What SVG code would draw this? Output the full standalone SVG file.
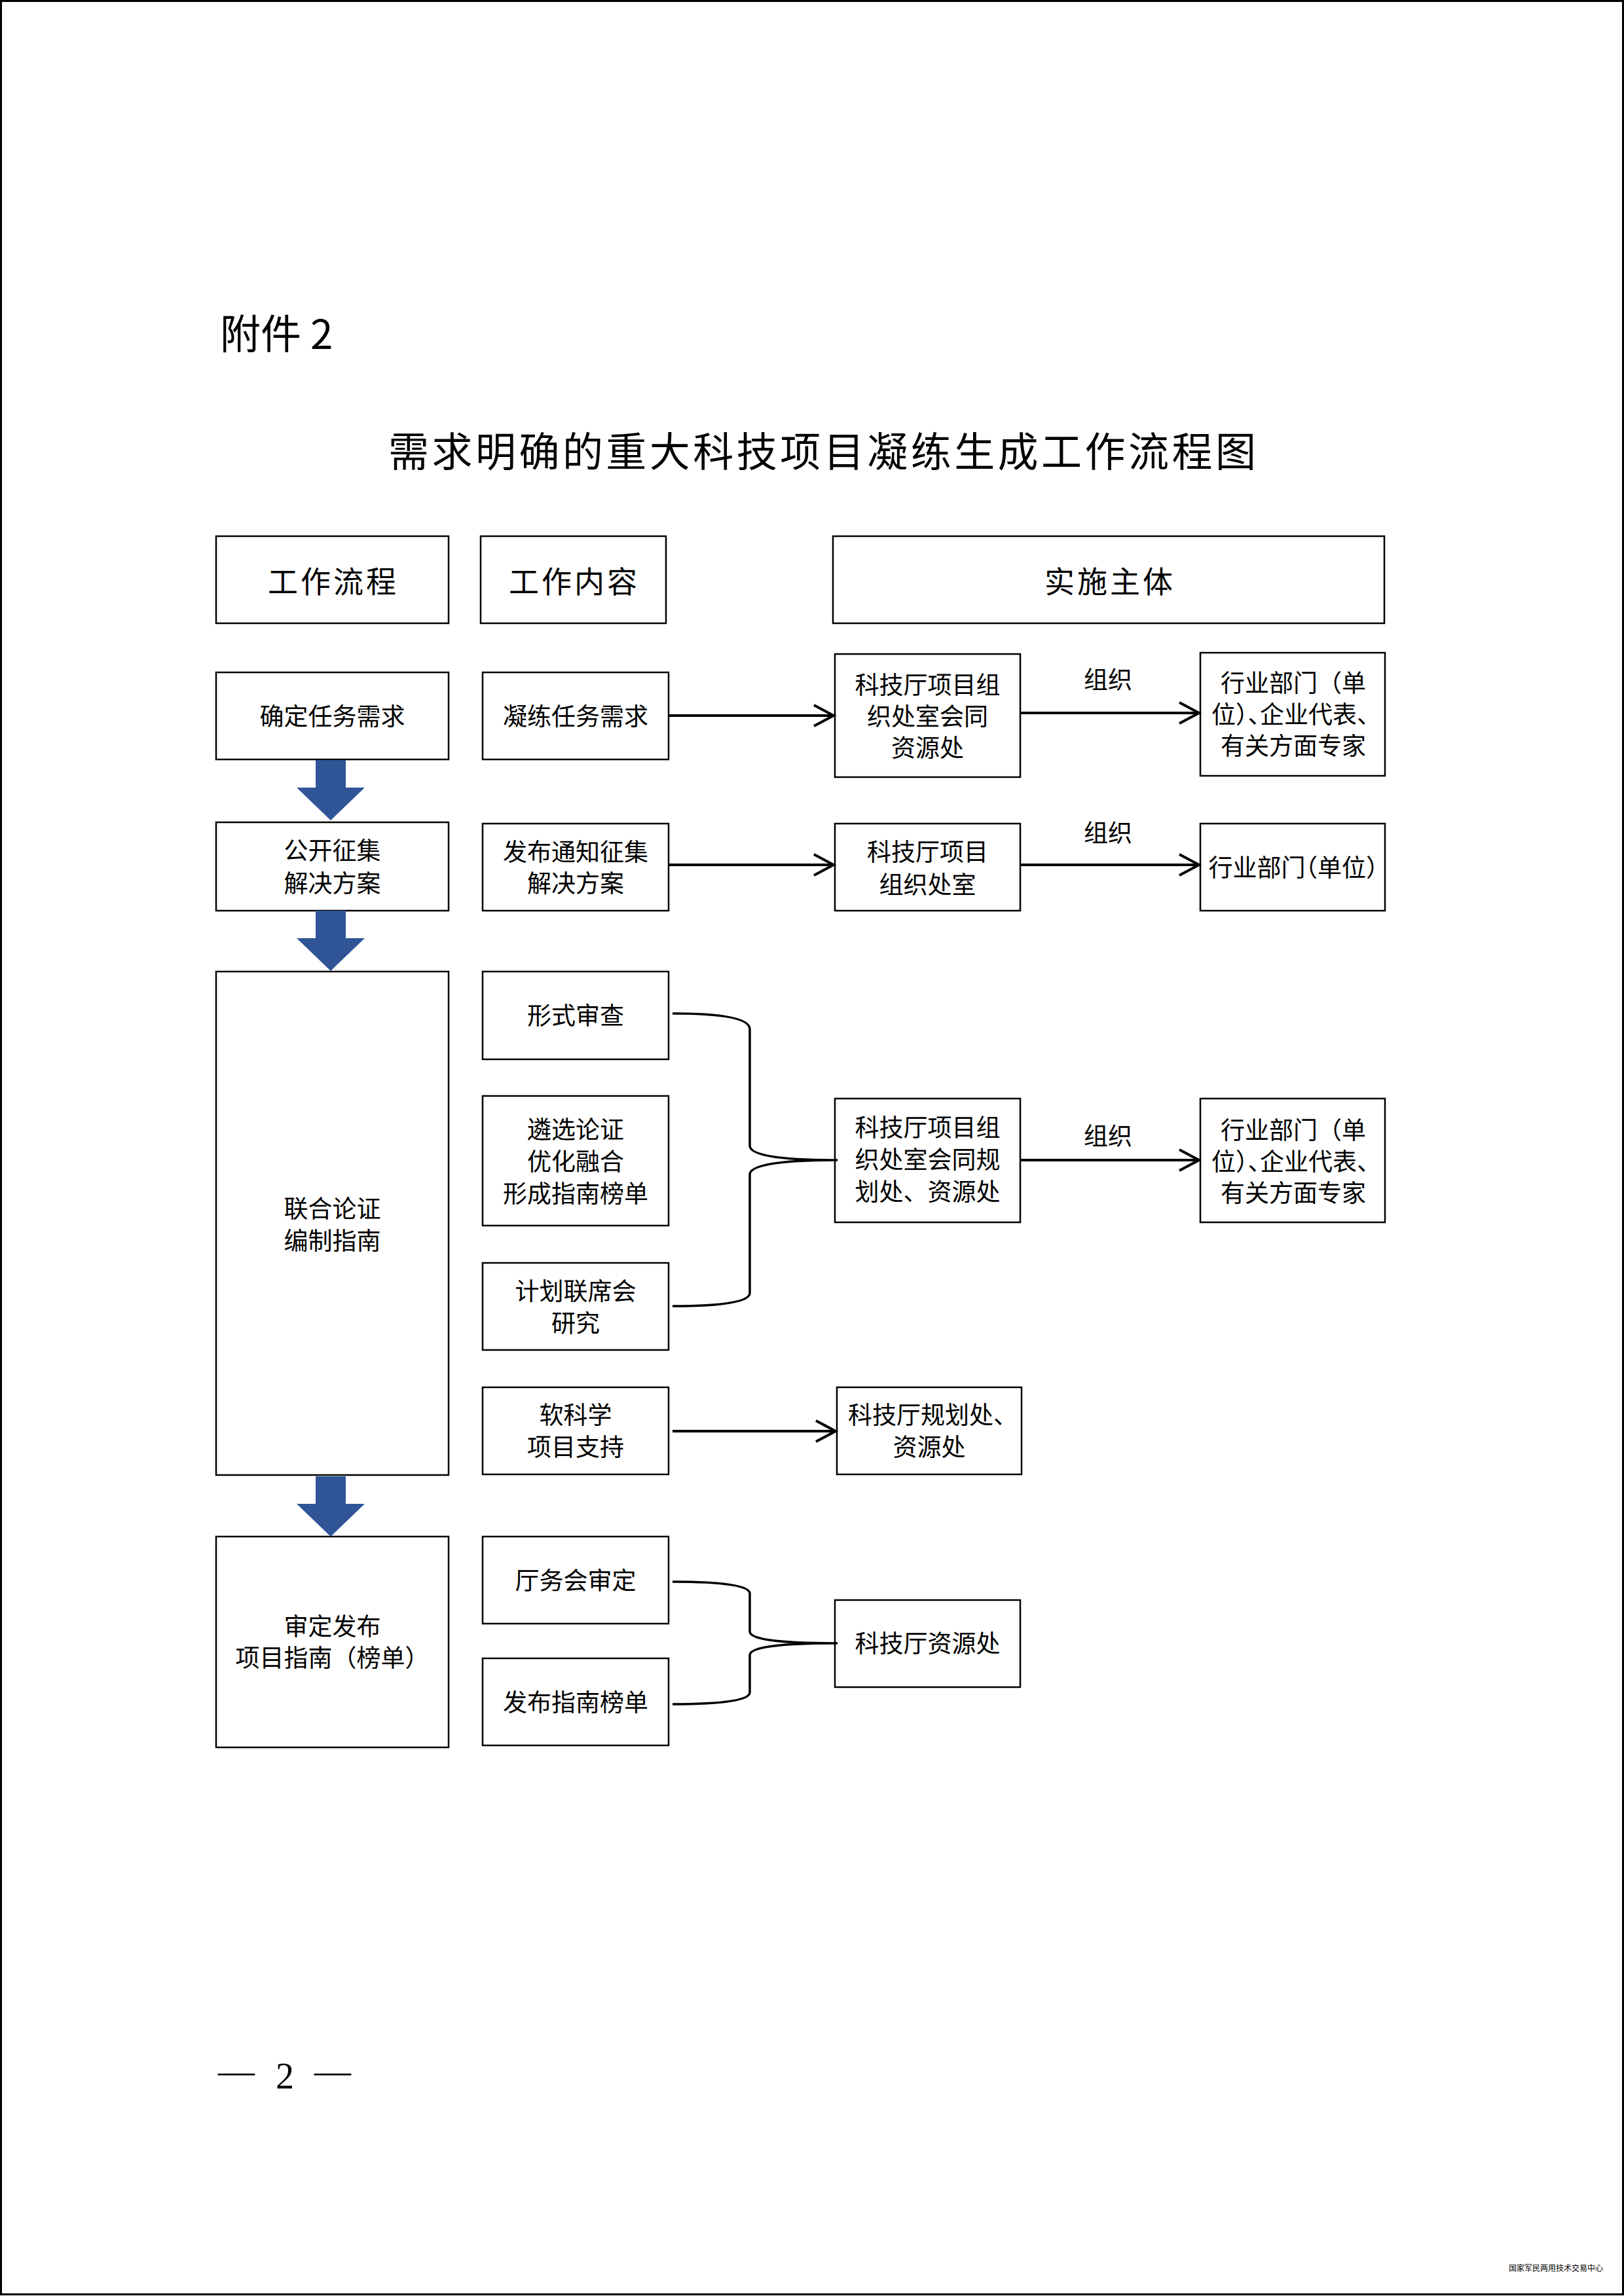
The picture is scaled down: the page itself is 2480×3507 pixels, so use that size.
<svg xmlns="http://www.w3.org/2000/svg" width="2480" height="3507" viewBox="0 0 2480 3507">
<style>
.box{fill:#fff;stroke:#000;stroke-width:2.5}
.t{font-family:"Noto Sans CJK SC","Noto Sans CJK JP",sans-serif;font-size:37px;text-anchor:middle;fill:#000}
.s{text-anchor:start}
.hw{font-feature-settings:"halt" 1}
.h{font-size:46px;letter-spacing:4px}
.conn{fill:none;stroke:#000;stroke-width:4}
.brace{fill:none;stroke:#000;stroke-width:3.5}
.blue{fill:#2F5597}
</style>
<defs>
<marker id="ah" markerUnits="userSpaceOnUse" markerWidth="44" markerHeight="44" viewBox="-36 -22 44 44" refX="0" refY="0" orient="auto">
<path d="M-30,-16 L0,0 L-30,16" fill="none" stroke="#000" stroke-width="4"/>
</marker>
</defs>
<rect x="0" y="0" width="2480" height="3507" fill="#fff"/>
<rect x="1.5" y="1.5" width="2477" height="3503" fill="none" stroke="#000" stroke-width="3"/>

<text x="336" y="533" style="font-family:'Noto Sans CJK SC',sans-serif;font-size:62px">附件 2</text>
<text x="593" y="713" textLength="1325" lengthAdjust="spacing" style="font-family:'Noto Sans CJK SC',sans-serif;font-size:62px">需求明确的重大科技项目凝练生成工作流程图</text>

<g id="hdr-flow"><rect class="box" x="330" y="819" width="355" height="133"/><text class="t h" x="509" y="905">工作流程</text></g>
<g id="hdr-content"><rect class="box" x="734" y="819" width="283" height="133"/><text class="t h" x="877" y="905">工作内容</text></g>
<g id="hdr-subject"><rect class="box" x="1272" y="819" width="842" height="133"/><text class="t h" x="1695" y="905">实施主体</text></g>

<g id="n-flow1"><rect class="box" x="330" y="1027" width="355" height="133"/><text class="t" x="507.5" y="1108">确定任务需求</text></g>
<g id="n-c1"><rect class="box" x="737" y="1027" width="284" height="133"/><text class="t" x="879" y="1108">凝练任务需求</text></g>
<g id="n-s1"><rect class="box" x="1275" y="999" width="283" height="188"/>
<text class="t" x="1416.5" y="1060">科技厅项目组</text><text class="t" x="1416.5" y="1108">织处室会同</text><text class="t" x="1416.5" y="1156">资源处</text></g>
<g id="n-o1"><rect class="box" x="1833" y="997" width="282" height="188"/>
<text class="t" x="1975" y="1057">行业部门（单</text>
<text class="t s hw" x="1850" y="1105">位）、企业代表、</text>
<text class="t" x="1975" y="1153">有关方面专家</text></g>

<g id="n-flow2"><rect class="box" x="330" y="1256" width="355" height="135"/><text class="t" x="507.5" y="1313">公开征集</text><text class="t" x="507.5" y="1363">解决方案</text></g>
<g id="n-c2"><rect class="box" x="737" y="1258" width="284" height="133"/><text class="t" x="879" y="1315">发布通知征集</text><text class="t" x="879" y="1363">解决方案</text></g>
<g id="n-s2"><rect class="box" x="1275" y="1258" width="283" height="133"/><text class="t" x="1416.5" y="1315">科技厅项目</text><text class="t" x="1416.5" y="1365">组织处室</text></g>
<g id="n-o2"><rect class="box" x="1833" y="1258" width="282" height="133"/>
<text class="t hw" x="1975" y="1339">行业部门（单位）</text></g>

<g id="n-flow3"><rect class="box" x="330" y="1484" width="355" height="769"/><text class="t" x="507.5" y="1860">联合论证</text><text class="t" x="507.5" y="1909">编制指南</text></g>
<g id="n-c3a"><rect class="box" x="737" y="1484" width="284" height="134"/><text class="t" x="879" y="1565">形式审查</text></g>
<g id="n-c3b"><rect class="box" x="737" y="1674" width="284" height="198"/><text class="t" x="879" y="1739">遴选论证</text><text class="t" x="879" y="1788">优化融合</text><text class="t" x="879" y="1837">形成指南榜单</text></g>
<g id="n-c3c"><rect class="box" x="737" y="1929" width="284" height="133"/><text class="t" x="879" y="1986">计划联席会</text><text class="t" x="879" y="2035">研究</text></g>
<g id="n-s3"><rect class="box" x="1275" y="1678" width="283" height="189"/>
<text class="t" x="1416.5" y="1736">科技厅项目组</text><text class="t" x="1416.5" y="1785">织处室会同规</text><text class="t" x="1416.5" y="1834">划处、资源处</text></g>
<g id="n-o3"><rect class="box" x="1833" y="1678" width="282" height="189"/>
<text class="t" x="1975" y="1740">行业部门（单</text>
<text class="t s hw" x="1850" y="1788">位）、企业代表、</text>
<text class="t" x="1975" y="1836">有关方面专家</text></g>

<g id="n-c4"><rect class="box" x="737" y="2119" width="284" height="133"/><text class="t" x="879" y="2175">软科学</text><text class="t" x="879" y="2224">项目支持</text></g>
<g id="n-s4"><rect class="box" x="1278" y="2119" width="282" height="133"/><text class="t s" x="1295" y="2175">科技厅规划处、</text><text class="t" x="1419" y="2224">资源处</text></g>

<g id="n-flow5"><rect class="box" x="330" y="2347" width="355" height="322"/><text class="t" x="507.5" y="2498">审定发布</text><text class="t" x="507.5" y="2546">项目指南（榜单）</text></g>
<g id="n-c5a"><rect class="box" x="737" y="2347" width="284" height="133"/><text class="t" x="879" y="2428">厅务会审定</text></g>
<g id="n-c5b"><rect class="box" x="737" y="2533" width="284" height="133"/><text class="t" x="879" y="2614">发布指南榜单</text></g>
<g id="n-s5"><rect class="box" x="1275" y="2444" width="283" height="133"/><text class="t" x="1416.5" y="2524">科技厅资源处</text></g>

<g id="connectors">
<path class="blue" d="M482,1161 L528,1161 L528,1203 L557,1203 L505,1253 L453,1203 L482,1203 Z"/>
<path class="blue" d="M482,1391 L528,1391 L528,1433 L557,1433 L505,1483 L453,1433 L482,1433 Z"/>
<path class="blue" d="M482,2255 L528,2255 L528,2297 L557,2297 L505,2347 L453,2297 L482,2297 Z"/>
<line class="conn" x1="1021" y1="1093" x2="1273" y2="1093" marker-end="url(#ah)"/>
<line class="conn" x1="1558" y1="1089" x2="1831" y2="1089" marker-end="url(#ah)"/>
<text class="t" x="1692" y="1052">组织</text>
<line class="conn" x1="1021" y1="1321" x2="1273" y2="1321" marker-end="url(#ah)"/>
<line class="conn" x1="1558" y1="1321" x2="1831" y2="1321" marker-end="url(#ah)"/>
<text class="t" x="1692" y="1286">组织</text>
<path class="brace" d="M1027,1548 Q1145,1548 1145,1572 L1145,1750 Q1145,1772 1279,1772 Q1145,1772 1145,1794 L1145,1975 Q1145,1995 1027,1995"/>
<line class="conn" x1="1558" y1="1772" x2="1831" y2="1772" marker-end="url(#ah)"/>
<text class="t" x="1692" y="1749">组织</text>
<line class="conn" x1="1027" y1="2186" x2="1276" y2="2186" marker-end="url(#ah)"/>
<path class="brace" d="M1027,2416 Q1145,2416 1145,2434 L1145,2492 Q1145,2510 1279,2510 Q1145,2510 1145,2528 L1145,2585 Q1145,2603 1027,2603"/>
</g>

<text style="font-family:'Liberation Serif',serif;font-size:56px" y="3190"><tspan x="333" y="3182">—</tspan><tspan x="421" y="3190">2</tspan><tspan x="480" y="3182">—</tspan></text>
<text x="2304" y="3469" style="font-family:'Noto Sans CJK SC',sans-serif;font-size:12px">国家军民两用技术交易中心</text>
</svg>
